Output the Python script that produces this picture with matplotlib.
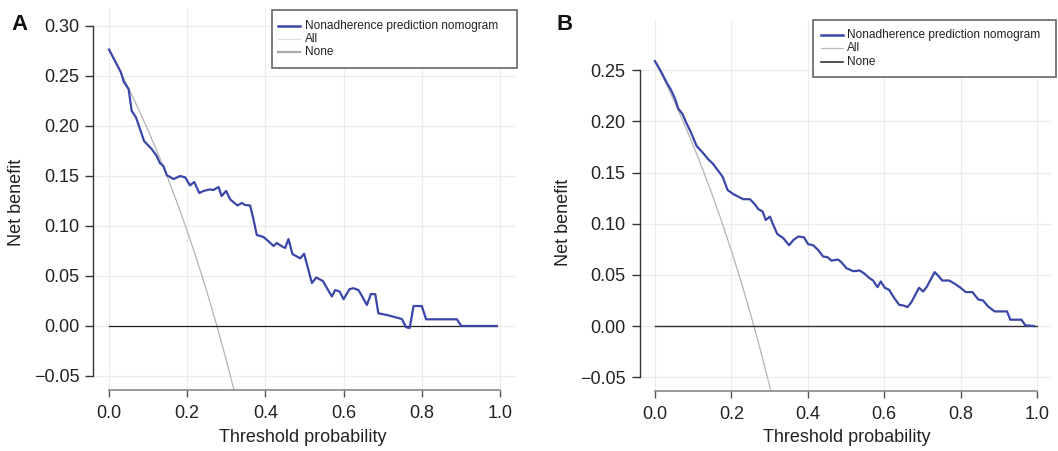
import matplotlib
matplotlib.use("Agg")
import matplotlib.pyplot as plt
from matplotlib.lines import Line2D
from matplotlib.patches import Rectangle

plt.rcParams['font.family'] = ['Liberation Sans', 'DejaVu Sans']

# ---------------- data ----------------
# Panel A: nomogram net benefit
a_thr = [0.0, 0.02, 0.03, 0.038, 0.05, 0.058, 0.069, 0.0896, 0.109, 0.122, 0.13, 0.139,
         0.148, 0.165, 0.182, 0.195, 0.207, 0.218, 0.231, 0.2415, 0.258, 0.267, 0.280,
         0.288, 0.2995, 0.31, 0.3285, 0.3396, 0.348, 0.361, 0.3695, 0.378, 0.395, 0.408,
         0.421, 0.429, 0.442, 0.4505, 0.459, 0.469, 0.480, 0.489, 0.499, 0.510, 0.519,
         0.53, 0.547, 0.570, 0.5785, 0.5896, 0.600, 0.615, 0.625, 0.638, 0.647, 0.6596,
         0.670, 0.681, 0.689, 0.711, 0.749, 0.760, 0.769, 0.779, 0.800, 0.811, 0.890,
         0.901, 0.992]
a_nb = [0.2765, 0.2615, 0.254, 0.244, 0.237, 0.215, 0.2086, 0.185, 0.177, 0.170, 0.163,
        0.160, 0.1507, 0.147, 0.150, 0.1486, 0.1406, 0.144, 0.133, 0.135, 0.1366, 0.136,
        0.139, 0.130, 0.135, 0.1266, 0.1205, 0.123, 0.121, 0.1205, 0.1065, 0.091, 0.089,
        0.0847, 0.080, 0.083, 0.0797, 0.078, 0.087, 0.072, 0.0696, 0.0676, 0.0723, 0.056,
        0.043, 0.0485, 0.045, 0.0295, 0.036, 0.0345, 0.0268, 0.0368, 0.0378, 0.036, 0.030,
        0.021, 0.032, 0.0318, 0.0127, 0.011, 0.007, -0.0013, -0.002, 0.020, 0.020, 0.0067,
        0.0067, 0.0, 0.0]
# Panel A: treat-all curve
a_all_thr = [0.0, 0.025, 0.05, 0.075, 0.10, 0.125, 0.15, 0.175, 0.20, 0.225, 0.25,
             0.275, 0.30, 0.31, 0.32]
a_all_nb = [0.276, 0.2574, 0.238, 0.2173, 0.1956, 0.1726, 0.1482, 0.1224, 0.095, 0.0658,
            0.0347, 0.0014, -0.0343, -0.0493, -0.0647]
# Panel A: treat-none line
a_none_thr = [0.0, 0.992]
a_none_nb = [0.0, 0.0]

# Panel B: nomogram net benefit
b_thr = [0.0, 0.0174, 0.0305, 0.041, 0.0523, 0.061, 0.0724, 0.0828, 0.0933, 0.109, 0.1247,
         0.1395, 0.151, 0.163, 0.177, 0.190, 0.205, 0.218, 0.231, 0.2485, 0.2616, 0.270,
         0.2816, 0.290, 0.3008, 0.3095, 0.320, 0.3357, 0.351, 0.362, 0.375, 0.3897, 0.401,
         0.414, 0.427, 0.440, 0.4516, 0.462, 0.4795, 0.488, 0.501, 0.519, 0.536, 0.549,
         0.5606, 0.571, 0.5824, 0.591, 0.6016, 0.613, 0.6234, 0.639, 0.651, 0.661, 0.6713,
         0.691, 0.702, 0.712, 0.732, 0.741, 0.752, 0.770, 0.785, 0.800, 0.8134, 0.831,
         0.846, 0.8587, 0.8718, 0.889, 0.9215, 0.930, 0.959, 0.9695, 0.992]
b_nb = [0.259, 0.2477, 0.238, 0.2315, 0.2224, 0.2126, 0.2071, 0.198, 0.190, 0.176, 0.1697,
        0.163, 0.159, 0.153, 0.146, 0.133, 0.129, 0.1265, 0.124, 0.124, 0.119, 0.1144,
        0.112, 0.1037, 0.107, 0.099, 0.090, 0.086, 0.079, 0.084, 0.0875, 0.0868, 0.080,
        0.079, 0.0744, 0.068, 0.0673, 0.064, 0.065, 0.0624, 0.0566, 0.0536, 0.0543, 0.051,
        0.0471, 0.0445, 0.038, 0.0436, 0.0374, 0.0354, 0.029, 0.0208, 0.020, 0.0185, 0.0234,
        0.0374, 0.0338, 0.0387, 0.0527, 0.0494, 0.0445, 0.0445, 0.0413, 0.0374, 0.0332,
        0.0332, 0.026, 0.025, 0.0192, 0.0143, 0.0143, 0.0062, 0.0062, 0.0007, 0.0]
# Panel B: treat-all curve
b_all_thr = [0.0, 0.025, 0.05, 0.075, 0.10, 0.125, 0.15, 0.175, 0.20, 0.225, 0.25,
             0.275, 0.30, 0.31]
b_all_nb = [0.259, 0.240, 0.220, 0.1989, 0.1767, 0.1531, 0.1282, 0.1018, 0.0737, 0.0439,
            0.012, -0.0221, -0.0586, -0.0739]
# Panel B: treat-none line
b_none_thr = [0.0, 1.0]
b_none_nb = [0.0, 0.0]

x_ticks = [0.0, 0.2, 0.4, 0.6, 0.8, 1.0]
x_ticklabels = ["0.0", "0.2", "0.4", "0.6", "0.8", "1.0"]
a_y_ticks = [-0.05, 0.0, 0.05, 0.10, 0.15, 0.20, 0.25, 0.30]
a_y_ticklabels = ["\u22120.05", "0.00", "0.05", "0.10", "0.15", "0.20", "0.25", "0.30"]
b_y_ticks = [-0.05, 0.0, 0.05, 0.10, 0.15, 0.20, 0.25]
b_y_ticklabels = ["\u22120.05", "0.00", "0.05", "0.10", "0.15", "0.20", "0.25"]
legend_labels = ["Nonadherence prediction nomogram", "All", "None"]
panel_letters = ["A", "B"]
x_label = "Threshold probability"
y_label = "Net benefit"

# ---------------- figure ----------------
W, H = 1058, 451
fig = plt.figure(figsize=(W / 100, H / 100), dpi=100)

BLUE = '#3b47a8'
ALLC = '#b4b4b4'
NONEC = '#1e1e1e'
GRID = '#ececec'


def px_axes(l, r, t, b):
    return fig.add_axes([l / W, 1 - b / H, (r - l) / W, (b - t) / H])


def style(ax, yticks, yticklabels, ylim):
    ax.set_xlim(-0.04, 1.04)
    ax.set_ylim(*ylim)
    ax.set_xticks(x_ticks)
    ax.set_xticklabels(x_ticklabels)
    ax.set_yticks(yticks)
    ax.set_yticklabels(yticklabels)
    for s in ['top', 'right']:
        ax.spines[s].set_visible(False)
    ax.spines['left'].set_bounds(yticks[0], yticks[-1])
    ax.spines['bottom'].set_bounds(0, 1)
    ax.spines['left'].set_color('#333333')
    ax.spines['bottom'].set_color('#888888')
    ax.spines['left'].set_linewidth(1.0)
    ax.spines['bottom'].set_linewidth(1.2)
    ax.tick_params(axis='y', length=5.8, width=1.0, color='#333333', pad=4.3,
                   labelsize=13, labelcolor='#222222')
    ax.tick_params(axis='x', length=5.2, width=1.0, color='#555555', pad=5.5,
                   labelsize=13, labelcolor='#222222')
    ax.grid(True, color=GRID, linewidth=0.8)
    ax.set_axisbelow(True)


# Panel A
axA = px_axes(93.4, 515.6, 8, 390)
style(axA, a_y_ticks, a_y_ticklabels, (-0.064, 0.318))
axA.plot(a_all_thr, a_all_nb, color=ALLC, lw=0.9, zorder=2)
axA.plot(a_none_thr, a_none_nb, color=NONEC, lw=0.9, zorder=2)
axA.plot(a_thr, a_nb, color=BLUE, lw=1.6, zorder=3)

# Panel B
axB = px_axes(639.7, 1052.3, 20, 391)
style(axB, b_y_ticks, b_y_ticklabels, (-0.0635, 0.2992))
axB.plot(b_all_thr, b_all_nb, color=ALLC, lw=0.9, zorder=2)
axB.plot(b_none_thr, b_none_nb, color='#333333', lw=1.0, zorder=2)
axB.plot(b_thr, b_nb, color=BLUE, lw=1.6, zorder=3)

# axis labels and panel letters
for cx, cy in [(17, 202), (563, 222)]:
    fig.text(cx / W, 1 - cy / H, y_label, rotation=90, ha='center', va='center',
             fontsize=13, color='#222222')
for cx in [303, 847]:
    fig.text(cx / W, 1 - 438 / H, x_label, ha='center', va='center',
             fontsize=13, color='#222222')
for (lx, by), letter in zip([(11, 30), (557, 30)], panel_letters):
    fig.text(lx / W, 1 - by / H, letter, ha='left', va='baseline',
             fontsize=16, fontweight='bold', color='#111111')


# legends
def legend_box(l, t, r, b, colors, widths, handle_x0, handle_x1, text_x, rows):
    fig.patches.append(Rectangle((l / W, 1 - b / H), (r - l) / W, (b - t) / H,
                                 transform=fig.transFigure, facecolor='white',
                                 edgecolor='#666666', linewidth=1.2, zorder=5))
    for c, lw, y, lab in zip(colors, widths, rows, legend_labels):
        fig.add_artist(Line2D([handle_x0 / W, handle_x1 / W], [1 - y / H, 1 - y / H],
                              color=c, lw=lw, transform=fig.transFigure, zorder=6))
        fig.text(text_x / W, 1 - y / H, lab, ha='left', va='center', fontsize=8.6,
                 color='#222222', zorder=6)


legend_box(272, 10, 517, 68, [BLUE, '#dddddd', '#aaaaaa'], [1.8, 0.9, 1.6],
           278, 300, 305, [26, 39, 52])
legend_box(813, 20, 1056, 77, [BLUE, '#bbbbbb', '#333333'], [1.8, 0.9, 1.2],
           821, 843, 847, [35, 48, 62])

fig.savefig("out.png", dpi=100, facecolor='white')
